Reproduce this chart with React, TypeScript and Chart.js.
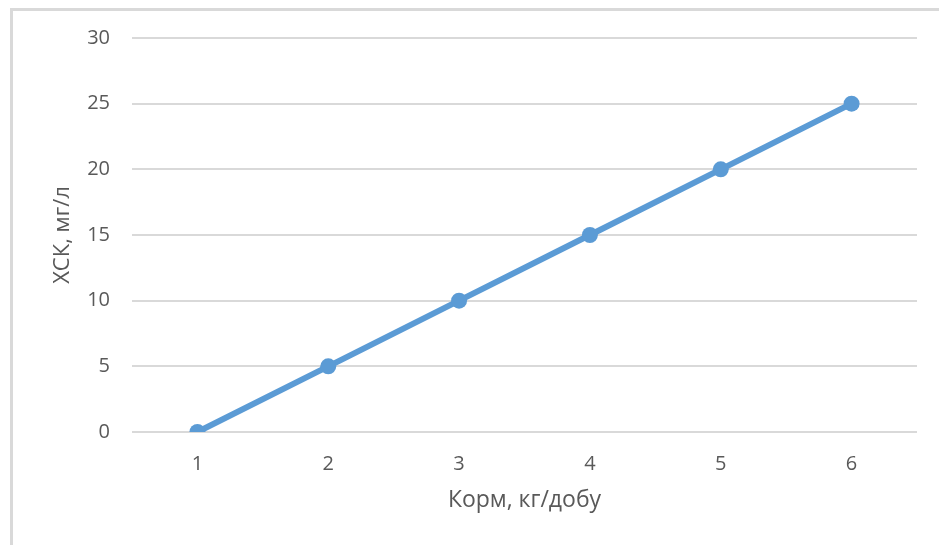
import React, { useEffect, useRef } from "react";
import { Chart, registerables } from "chart.js";

Chart.register(...registerables);

const categories: string[] = ["1", "2", "3", "4", "5", "6"];
const values: number[] = [0, 5, 10, 15, 20, 25];
const yMin = 0;
const yMax = 30;
const yStep = 5;
const xTitle = "Корм, кг/добу";
const yTitle = "ХСК, мг/л";

const LINE_COLOR = "#5b9bd5";
const TEXT_COLOR = "#595959";
const GRID_COLOR = "#d9d9d9";
const FONT = "'Open Sans', 'DejaVu Sans', sans-serif";

export default function App() {
  const canvasRef = useRef<HTMLCanvasElement | null>(null);

  useEffect(() => {
    const canvas = canvasRef.current;
    if (!canvas) return;
    const chart = new Chart(canvas, {
      type: "line",
      data: {
        labels: categories,
        datasets: [
          {
            data: values,
            borderColor: LINE_COLOR,
            backgroundColor: LINE_COLOR,
            borderWidth: 6,
            pointRadius: 8,
            pointBackgroundColor: LINE_COLOR,
            pointBorderColor: LINE_COLOR,
            pointBorderWidth: 0,
            tension: 0,
            fill: false,
          },
        ],
      },
      options: {
        animation: false,
        responsive: false,
        maintainAspectRatio: false,
        layout: { padding: { left: 0, right: 22, top: 38, bottom: 0 } },
        plugins: {
          legend: { display: false },
          tooltip: { enabled: false },
        },
        scales: {
          x: {
            type: "category",
            offset: true,
            grid: { display: false, drawTicks: false },
            border: { display: false },
            ticks: {
              color: TEXT_COLOR,
              font: { family: FONT, size: 20 },
              padding: 20,
              maxRotation: 0,
            },
            title: {
              display: true,
              text: xTitle,
              color: TEXT_COLOR,
              font: { family: FONT, size: 23 },
              padding: { top: 0, bottom: 31 },
            },
            afterFit: (scale: any) => {
              scale.height = 113;
            },
          },
          y: {
            min: yMin,
            max: yMax,
            grid: { color: GRID_COLOR, lineWidth: 2, drawTicks: false },
            border: { display: false },
            ticks: {
              stepSize: yStep,
              color: TEXT_COLOR,
              font: { family: FONT, size: 20 },
              padding: 22,
            },
            title: {
              display: true,
              text: yTitle,
              color: TEXT_COLOR,
              font: { family: FONT, size: 22 },
              padding: { top: 50, bottom: 0 },
            },
            afterFit: (scale: any) => {
              scale.width = 132;
            },
          },
        },
      },
    });
    return () => chart.destroy();
  }, []);

  return (
    <div style={{ position: "fixed", left: 0, top: 0, width: 939, height: 545, overflow: "hidden", background: "#fff" }}>
      <div
        style={{
          position: "absolute",
          left: 10,
          top: 8,
          width: 1000,
          height: 600,
          border: "3px solid #d9d9d9",
          boxSizing: "border-box",
        }}
      />
      <canvas ref={canvasRef} width={939} height={545} style={{ position: "absolute", left: 0, top: 0 }} />
    </div>
  );
}
